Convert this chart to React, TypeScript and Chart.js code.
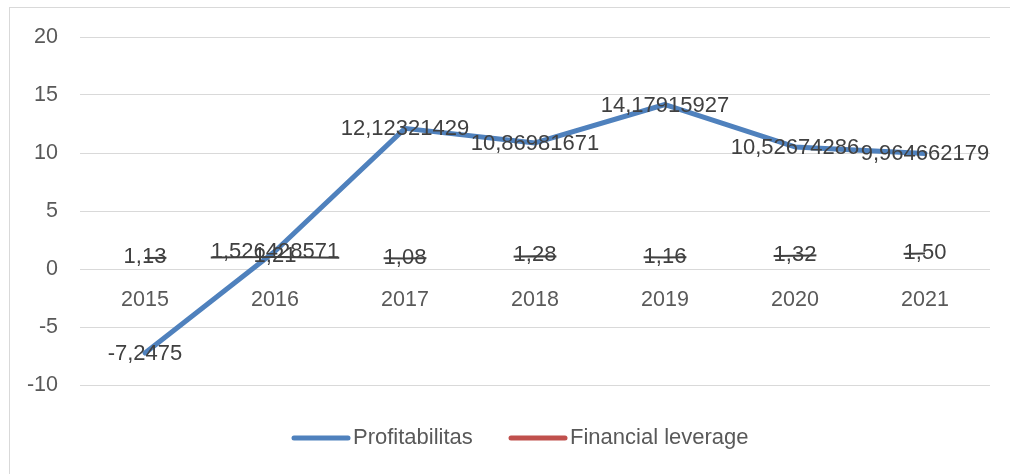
import React, { useEffect, useRef } from "react";
import { Chart, registerables } from "chart.js";

Chart.register(...registerables);

const categories = ["2015", "2016", "2017", "2018", "2019", "2020", "2021"];
const profitabilitas = [-7.2475, 1.526428571, 12.12321429, 10.86981671, 14.17915927, 10.52674286, 9.964662179];
const financialLeverage = [1.13, 1.21, 1.08, 1.28, 1.16, 1.32, 1.5];
const seriesNames = ["Profitabilitas", "Financial leverage"];
const seriesColors = ["#4F81BD", "#C0504D"];
const yMin = -10;
const yMax = 20;
const yStep = 5;

const FONT = "'Liberation Sans', Arial, sans-serif";
const TICK_COLOR = "#595959";
const LABEL_COLOR = "#404040";

function fmtProfit(v: number) {
  return String(v).replace(".", ",");
}
function fmtLev(v: number) {
  return v.toFixed(2).replace(".", ",");
}

const labelPlugin = {
  id: "excelLabels",
  afterDatasetsDraw(chart: any) {
    const ctx = chart.ctx;
    ctx.save();
    ctx.font = `22px ${FONT}`;
    ctx.fillStyle = LABEL_COLOR;
    ctx.textAlign = "center";
    ctx.textBaseline = "middle";
    const boxes: { x: number; y: number; w: number; h: number }[] = [];
    const formats = [fmtProfit, fmtLev];
    const dataArrs = [profitabilitas, financialLeverage];
    [1, 0].forEach((di) => {
      const meta = chart.getDatasetMeta(di);
      meta.data.forEach((pt: any, i: number) => {
        const txt = formats[di](dataArrs[di][i]);
        const w = ctx.measureText(txt).width;
        ctx.fillText(txt, pt.x, pt.y + 1);
        boxes.push({ x: pt.x - w / 2, y: pt.y - 10, w, h: 22 });
      });
    });
    // leverage line shows only where it crosses labels
    ctx.beginPath();
    boxes.forEach((b) => ctx.rect(b.x, b.y, b.w, b.h));
    ctx.clip();
    const lev = chart.getDatasetMeta(1).data;
    ctx.beginPath();
    lev.forEach((pt: any, i: number) => {
      if (i === 0) ctx.moveTo(pt.x, pt.y + 2);
      else ctx.lineTo(pt.x, pt.y + 2);
    });
    ctx.strokeStyle = LABEL_COLOR;
    ctx.lineWidth = 2;
    ctx.stroke();
    ctx.restore();
  },
};

const legendPlugin = {
  id: "customLegend",
  afterDraw(chart: any) {
    const ctx = chart.ctx;
    ctx.save();
    ctx.font = `22px ${FONT}`;
    ctx.textBaseline = "middle";
    ctx.textAlign = "left";
    const y = 438;
    const items = [
      { x: 294, name: seriesNames[0], color: seriesColors[0] },
      { x: 511, name: seriesNames[1], color: seriesColors[1] },
    ];
    items.forEach((it) => {
      ctx.beginPath();
      ctx.moveTo(it.x, y);
      ctx.lineTo(it.x + 54, y);
      ctx.strokeStyle = it.color;
      ctx.lineWidth = 5;
      ctx.lineCap = "round";
      ctx.stroke();
      ctx.fillStyle = TICK_COLOR;
      ctx.fillText(it.name, it.x + 59, y);
    });
    ctx.restore();
  },
};

export default function App() {
  const ref = useRef<HTMLCanvasElement>(null);
  useEffect(() => {
    document.body.style.margin = "0";
    if (!ref.current) return;
    const chart = new Chart(ref.current, {
      type: "line",
      data: {
        labels: categories,
        datasets: [
          {
            label: seriesNames[0],
            data: profitabilitas,
            borderColor: seriesColors[0],
            backgroundColor: seriesColors[0],
            borderWidth: 5,
            pointRadius: 0,
            borderJoinStyle: "round",
            borderCapStyle: "round",
            tension: 0,
          },
          {
            label: seriesNames[1],
            data: financialLeverage,
            borderColor: "rgba(0,0,0,0)",
            backgroundColor: seriesColors[1],
            borderWidth: 0,
            pointRadius: 0,
            tension: 0,
          },
        ],
      },
      options: {
        animation: false,
        responsive: false,
        maintainAspectRatio: false,
        layout: { padding: { left: 0, right: 20, top: 37, bottom: 89 } },
        plugins: { legend: { display: false }, tooltip: { enabled: false } },
        scales: {
          x: {
            type: "category",
            position: { y: 0 } as any,
            offset: true,
            grid: { display: false, drawTicks: false },
            border: { display: false },
            ticks: { color: TICK_COLOR, font: { family: FONT, size: 21.5 }, padding: 18, maxRotation: 0 },
          },
          y: {
            min: yMin,
            max: yMax,
            grid: { color: "#D9D9D9", lineWidth: 1, drawTicks: false },
            border: { display: false },
            ticks: { stepSize: yStep, color: TICK_COLOR, font: { family: FONT, size: 21.5 }, padding: 22 },
            afterFit(scale: any) {
              scale.width = 80;
            },
          },
        },
      },
      plugins: [labelPlugin, legendPlugin],
    });
    return () => chart.destroy();
  }, []);
  return (
    <div style={{ position: "relative", width: 1010, height: 474, background: "#fff" }}>
      <canvas ref={ref} width={1010} height={474} style={{ position: "absolute", left: 0, top: 0 }} />
      <div
        style={{
          position: "absolute",
          left: 9,
          top: 7,
          width: 1001,
          height: 467,
          borderTop: "1px solid #D9D9D9",
          borderLeft: "1px solid #D9D9D9",
          boxSizing: "border-box",
          pointerEvents: "none",
        }}
      />
    </div>
  );
}
